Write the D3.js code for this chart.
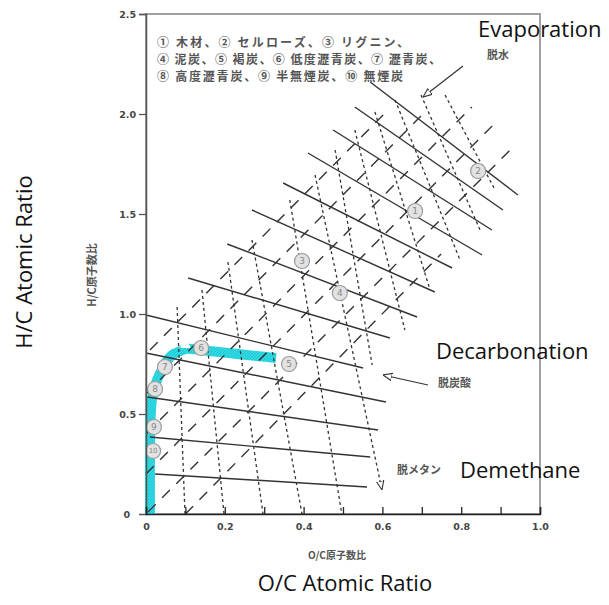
<!DOCTYPE html>
<html>
<head>
<meta charset="utf-8">
<script src="https://cdn.jsdelivr.net/npm/d3@7"></script>
<style>
  body { margin: 0; background: #fff; }
  .tick text { font-family: "DejaVu Sans", sans-serif; font-size: 9.5px; font-weight: bold; fill: #444; }
  .jp { font-family: "Noto Sans CJK JP", sans-serif; fill: #555; font-weight: bold; }
  .en { font-family: "Open Sans", "Noto Sans", sans-serif; fill: #111; }
</style>
</head>
<body>
<script>
// solid lines (decarboxylation), [x1, y1, x2, y2] in O/C, H/C
var solidLines = [
  [0.023, 0.20, 0.561, 0.135],
  [0.010, 0.385, 0.569, 0.285],
  [0.003, 0.585, 0.589, 0.42],
  [0.0, 0.805, 0.609, 0.56],
  [0.0, 0.995, 0.551, 0.73],
  [0.107, 1.18, 0.619, 0.88],
  [0.206, 1.35, 0.688, 0.985],
  [0.269, 1.52, 0.733, 1.11],
  [0.348, 1.655, 0.777, 1.23],
  [0.411, 1.805, 0.853, 1.295],
  [0.475, 1.92, 0.878, 1.42],
  [0.530, 2.035, 0.906, 1.52],
  [0.569, 2.16, 0.944, 1.595]
];
// long dashed lines (dehydration)
var dehydLines = [
  [0.010, 0.82, 0.607, 2.005],
  [0.0, 0.60, 0.708, 2.01],
  [0.0, 0.40, 0.827, 2.035],
  [0.0, 0.20, 0.881, 1.945],
  [0.005, 0.01, 0.937, 1.845],
  [0.10, 0.0, 0.749, 1.30]
];
// short dashed lines (demethanation)
var methLines = [
  [0.079, 1.035, 0.099, 0.0],
  [0.142, 1.12, 0.198, 0.0],
  [0.208, 1.26, 0.297, 0.0],
  [0.269, 1.37, 0.396, 0.0],
  [0.365, 1.57, 0.497, 0.0],
  [0.429, 1.695, 0.599, 0.12],
  [0.480, 1.82, 0.574, 0.745],
  [0.530, 1.92, 0.657, 0.92],
  [0.581, 2.01, 0.721, 1.12],
  [0.632, 2.07, 0.797, 1.27],
  [0.698, 2.095, 0.848, 1.42],
  [0.759, 2.095, 0.886, 1.62]
];
// cyan coal band
var bandPts = [[0.01, 0.0], [0.01, 0.30], [0.012, 0.50], [0.02, 0.62], [0.04, 0.72], [0.07, 0.80], [0.10, 0.83], [0.14, 0.82], [0.33, 0.78]];
// numbered samples
var markNames = ["1", "2", "3", "4", "5", "6", "7", "8", "9", "10"];
var markX = [0.683, 0.843, 0.396, 0.492, 0.363, 0.14, 0.048, 0.023, 0.02, 0.018];
var markY = [1.515, 1.715, 1.265, 1.105, 0.75, 0.83, 0.735, 0.625, 0.435, 0.315];
var legendLines = [
  "① 木材、② セルローズ、③ リグニン、",
  "④ 泥炭、⑤ 褐炭、⑥ 低度瀝青炭、⑦ 瀝青炭、",
  "⑧ 高度瀝青炭、⑨ 半無煙炭、⑩ 無煙炭"
];
var legendWidths = [252, 284, 246];
var yTicks = [0, 0.5, 1.0, 1.5, 2.0, 2.5];
var xTicks = [0, 0.2, 0.4, 0.6, 0.8, 1.0];

var W = 609, H = 605;
var svg = d3.select("body").append("svg").attr("width", W).attr("height", H);
var x = d3.scaleLinear().domain([0, 1]).range([146, 540]);
var y = d3.scaleLinear().domain([0, 2.5]).range([514, 14]);

var defs = svg.append("defs");
var pat = defs.append("pattern").attr("id", "hatch").attr("patternUnits", "userSpaceOnUse")
  .attr("width", 3).attr("height", 3);
pat.append("rect").attr("width", 3).attr("height", 3).attr("fill", "#2fdbe4");
pat.append("path").attr("d", "M0,3 L3,0").attr("stroke", "#1cb9c6").attr("stroke-width", 0.7);

defs.append("marker").attr("id", "tri").attr("viewBox", "0 0 10 10").attr("refX", 10).attr("refY", 5)
  .attr("markerWidth", 9).attr("markerHeight", 9).attr("orient", "auto")
  .attr("markerUnits", "userSpaceOnUse")
  .append("path").attr("d", "M0,1 L10,5 L0,9 Z").attr("fill", "#fff").attr("stroke", "#333").attr("stroke-width", 1.2);

// frame
svg.append("rect").attr("x", x(0)).attr("y", y(2.5)).attr("width", x(1) - x(0)).attr("height", y(0) - y(2.5))
  .attr("fill", "none").attr("stroke", "#a0a0a0").attr("stroke-width", 2);

// band
svg.append("path").datum(bandPts)
  .attr("d", d3.line().x(function(d){ return x(d[0]); }).y(function(d){ return y(d[1]); }).curve(d3.curveMonotoneY))
  .attr("fill", "none").attr("stroke", "url(#hatch)").attr("stroke-width", 10);

var g = svg.append("g");
function drawLines(data, dash, width) {
  return g.selectAll(null).data(data).enter().append("line")
    .attr("x1", function(d){ return x(d[0]); }).attr("y1", function(d){ return y(d[1]); })
    .attr("x2", function(d){ return x(d[2]); }).attr("y2", function(d){ return y(d[3]); })
    .attr("stroke", "#333").attr("stroke-width", width).attr("stroke-dasharray", dash);
}
drawLines(solidLines, null, 1.4);
drawLines(dehydLines, "11,9", 1.4);
drawLines(methLines, "3,3", 1.3)
  .filter(function(d, i){ return i === 5; }).attr("marker-end", "url(#tri)");

// markers
var mk = svg.append("g").selectAll("g").data(markNames).enter().append("g")
  .attr("transform", function(d, i){ return "translate(" + x(markX[i]) + "," + y(markY[i]) + ")"; });
mk.append("circle").attr("r", 7.5).attr("fill", "#e2e2e2").attr("stroke", "#9a9a9a").attr("stroke-width", 1.2);
mk.append("text").text(function(d){ return d; }).attr("text-anchor", "middle").attr("dy", "0.35em")
  .style("font-family", "DejaVu Sans, sans-serif").style("font-size", function(d){ return d.length > 1 ? "7px" : "9px"; })
  .attr("fill", "#888");

// axes
var ya = svg.append("g").attr("transform", "translate(" + x(0) + ",0)")
  .call(d3.axisLeft(y).tickValues(yTicks).tickSize(7).tickPadding(3)
    .tickFormat(function(d){ return d === 0 ? "0" : d3.format(".1f")(d); }));
ya.select(".domain").attr("stroke", "#555").attr("stroke-width", 1.5);
ya.selectAll(".tick line").attr("stroke", "#555").attr("stroke-width", 1.3);
ya.selectAll(".tick").filter(function(d){ return d === 0; }).select("line").remove();
ya.selectAll(".tick").filter(function(d){ return d === 0; }).select("text").attr("x", -16);

var xa = svg.append("g").attr("transform", "translate(0," + y(0) + ")")
  .call(d3.axisBottom(x).tickValues(d3.range(0, 11).map(function(i){ return i / 10; })).tickSize(-7).tickFormat(""));
xa.select(".domain").attr("stroke", "#222").attr("stroke-width", 1.5);
xa.selectAll(".tick line").attr("stroke", "#222").attr("stroke-width", 1.3);
var xl = svg.append("g").attr("transform", "translate(0," + y(0) + ")")
  .call(d3.axisBottom(x).tickValues(xTicks).tickSize(0).tickPadding(9)
    .tickFormat(function(d){ return d === 0 ? "0" : d3.format(".1f")(d); }));
xl.select(".domain").remove();

// legend text
svg.append("g").selectAll("text").data(legendLines).enter().append("text")
  .attr("class", "jp").attr("x", 157).attr("y", function(d, i){ return 47 + i * 17; })
  .attr("textLength", function(d, i){ return legendWidths[i]; }).attr("lengthAdjust", "spacing")
  .style("font-size", "12px").text(function(d){ return d; });

// arrows with labels
svg.append("line").attr("x1", 463).attr("y1", 66).attr("x2", 423).attr("y2", 97)
  .attr("stroke", "#333").attr("stroke-width", 1.2).attr("marker-end", "url(#tri)");
svg.append("line").attr("x1", 428).attr("y1", 385).attr("x2", 383).attr("y2", 375)
  .attr("stroke", "#333").attr("stroke-width", 1.2).attr("marker-end", "url(#tri)");
svg.append("text").attr("class", "jp").attr("x", 487).attr("y", 59).style("font-size", "11px").text("脱水");
svg.append("text").attr("class", "jp").attr("x", 438).attr("y", 387).style("font-size", "11px").text("脱炭酸");
svg.append("text").attr("class", "jp").attr("x", 397).attr("y", 474).style("font-size", "11px").text("脱メタン");

// small axis titles
svg.append("text").attr("class", "jp").attr("x", 337).attr("y", 559).attr("text-anchor", "middle")
  .style("font-size", "10px").text("O/C原子数比");
svg.append("text").attr("class", "jp").attr("transform", "translate(96,275) rotate(-90)").attr("text-anchor", "middle")
  .style("font-size", "11px").text("H/C原子数比");

// english labels
svg.append("text").attr("class", "en").attr("x", 478).attr("y", 37).style("font-size", "22px").text("Evaporation");
svg.append("text").attr("class", "en").attr("x", 436).attr("y", 359).style("font-size", "22px").text("Decarbonation");
svg.append("text").attr("class", "en").attr("x", 460).attr("y", 478).style("font-size", "22px").text("Demethane");
svg.append("text").attr("class", "en").attr("x", 345).attr("y", 591).attr("text-anchor", "middle").style("font-size", "22px").text("O/C Atomic Ratio");
svg.append("text").attr("class", "en").attr("transform", "translate(32,262) rotate(-90)").attr("text-anchor", "middle")
  .style("font-size", "22px").text("H/C Atomic Ratio");
</script>
</body>
</html>
